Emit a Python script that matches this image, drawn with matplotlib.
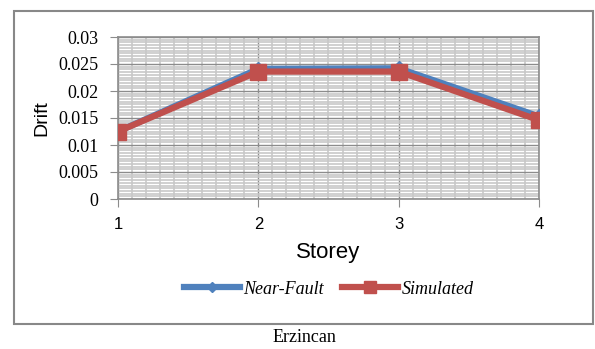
import matplotlib
matplotlib.use('Agg')
import matplotlib.pyplot as plt
from matplotlib.patches import Rectangle
from matplotlib.ticker import MultipleLocator

storeys = [1, 2, 3, 4]
near_fault = [0.0125, 0.0241, 0.0242, 0.0153]
simulated = [0.0125, 0.0236, 0.0236, 0.0146]
ytick_vals = [0, 0.005, 0.01, 0.015, 0.02, 0.025, 0.03]
ytick_labels = ['0', '0.005', '0.01', '0.015', '0.02', '0.025', '0.03']

blue = '#4F81BD'
red = '#C0504D'

fig = plt.figure(figsize=(5.95, 3.49), dpi=100)
ax = fig.add_axes([118/595, 1-199/349, 421/595, 162/349])

# outer chart frame
fig.patches.append(Rectangle((14/595, 1-324/349), 579/595, 313/349,
                             transform=fig.transFigure, fill=False,
                             edgecolor='#888888', linewidth=1.5))

ax.plot(storeys, near_fault, color=blue, linewidth=4.5, marker='D',
        markersize=7, label='Near-Fault', zorder=3)
ax.plot(storeys, simulated, color=red, linewidth=4.5, marker='s',
        markersize=11, label='Simulated', zorder=4)

ax.set_xlim(1, 4)
ax.set_ylim(0, 0.03)
ax.xaxis.set_major_locator(MultipleLocator(1))
ax.xaxis.set_minor_locator(MultipleLocator(0.1))
ax.yaxis.set_minor_locator(MultipleLocator(0.0005))
ax.set_yticks(ytick_vals)
ax.set_yticklabels(ytick_labels)

ax.grid(which='minor', color='#c8c8c8', linewidth=1.2)
ax.grid(which='major', color='#8c8c8c', linewidth=1.0)
ax.set_axisbelow(True)
for s in ax.spines.values():
    s.set_color('#8c8c8c')
    s.set_linewidth(1.2)
ax.tick_params(which='major', length=6, color='#8c8c8c')
ax.tick_params(which='minor', length=0)
ax.tick_params(axis='y', pad=8, labelsize=13)
ax.tick_params(axis='x', pad=7, labelsize=12)
for lab in ax.get_yticklabels():
    lab.set_family('Liberation Serif')
for lab in ax.get_xticklabels():
    lab.set_family('Liberation Sans')

ax.set_xlabel('Storey', fontsize=16, family='Liberation Sans', labelpad=7)
ax.set_ylabel('Drift', fontsize=14, family='Liberation Sans', labelpad=6)

leg = ax.legend(loc='center', bbox_to_anchor=(0.5, 1-(289-37)/162), ncol=2,
                frameon=False, handlelength=3.1, columnspacing=1.0,
                handletextpad=0.2, markerscale=0.8,
                prop={'family': 'Liberation Serif', 'style': 'italic',
                      'size': 13})

fig.text(304/595, 1-337/349, 'Erzincan', ha='center', va='center',
         fontsize=13, family='Liberation Serif')

fig.savefig('out.png', dpi=100)
